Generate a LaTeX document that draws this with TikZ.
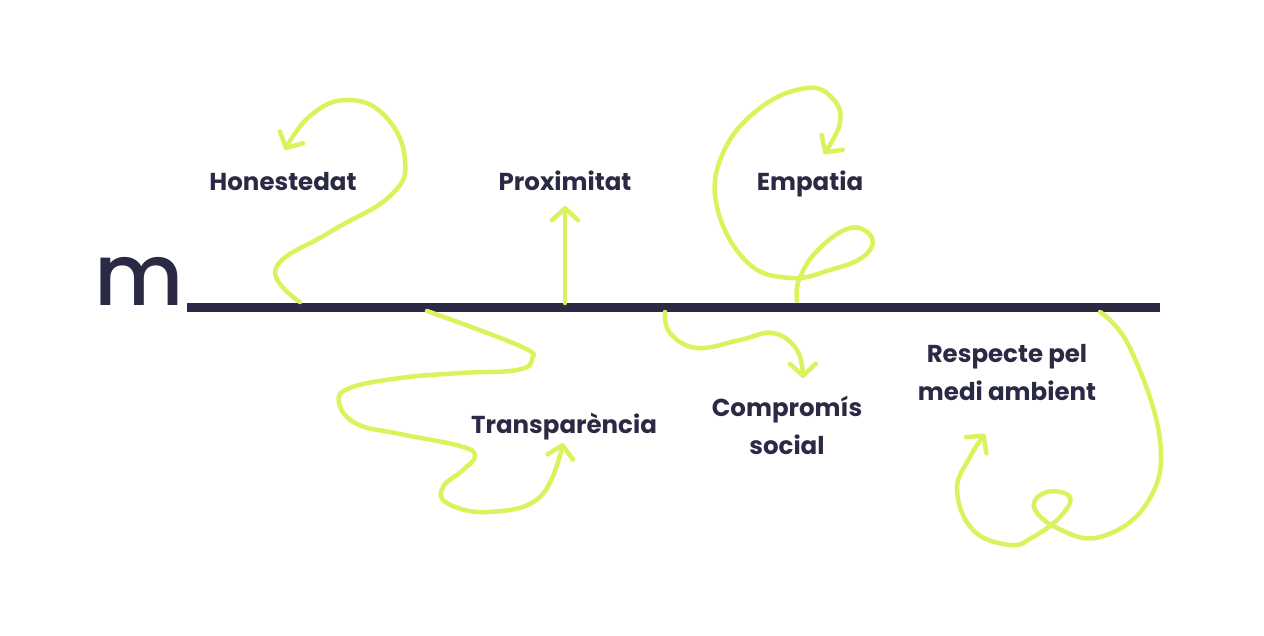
\documentclass[tikz,border=0pt]{standalone}
\usepackage{fontspec}
\setmainfont{Poppins}
\newfontfamily\logofont{Poppins Medium}
\usepackage{tikz}
\usetikzlibrary{arrows.meta}

\definecolor{navy}{HTML}{2B2A45}
\definecolor{lime}{HTML}{DCF25C}

\begin{document}
\begin{tikzpicture}[
  x=1pt, y=-1pt,
  label/.style={text=navy, font=\fontsize{24.5}{38}\selectfont\bfseries, align=center, inner sep=0pt},
  curve/.style={draw=lime, line width=4.5pt, line cap=round, line join=round},
  tip/.style={-{Straight Barb[length=12pt, width=26pt, round]}}
]
\useasboundingbox (0,0) rectangle (1264,635);

% base line and logo letter
\coordinate (lineL) at (187,307.5);
\coordinate (lineR) at (1160,307.5);
\draw[navy, line width=9pt] (lineL) -- (lineR);
\node[text=navy, font=\fontsize{86}{86}\logofont, anchor=base, inner sep=0pt] (logo) at (139,305) {m};

% values
\node[label, anchor=base] (hon) at (283,190) {Honestedat};
\node[label, anchor=base] (prox) at (565,190) {Proximitat};
\node[label, anchor=base] (emp) at (810,190) {Empatia};
\node[label, anchor=base] (trans) at (564,433) {Transparència};
\node[label] (comp) at (787,425) {Compromís\\social};
\node[label] (resp) at (1007,373) {Respecte pel\\medi ambient};

% start and end points of the curves
\coordinate (honS) at (300,302);
\coordinate (honE) at (285,150);
\coordinate (proxS) at (565,303);
\coordinate (proxE) at (565,206);
\coordinate (transS) at (427,311);
\coordinate (transE) at (563,443);
\coordinate (empS) at (797,301);
\coordinate (empE) at (824,154);
\coordinate (compS) at (665,312);
\coordinate (compE) at (803,378);
\coordinate (respS) at (1100,312);
\coordinate (respE) at (985,434);

% curved arrows
\draw[curve, tip] plot[smooth, tension=0.75] coordinates {(honS) (276,268) (330,232) (390,196) (405,160) (385,116) (347,100) (310,116) (honE)};
\draw[curve, tip] (proxS) -- (proxE);
\draw[curve, tip] plot[smooth, tension=0.7] coordinates {(transS) (520,346) (532,359) (517,370) (460,373) (400,378) (350,388) (339,403) (357,424) (400,434) (460,446) (475,456) (463,470) (443,487) (447,503) (487,512) (540,497) (transE)};
\draw[curve, tip] plot[smooth, tension=0.7] coordinates {(empS) (799,280) (817,251) (850,228) (872,238) (863,257) (830,270) (790,278) (747,262) (717,207) (723,153) (760,108) (807,88) (833,99) (840,123) (empE)};
\draw[curve, tip] plot[smooth, tension=0.7] coordinates {(compS) (670,333) (697,348) (740,340) (773,333) (797,350) (compE)};
\draw[curve, tip] plot[smooth, tension=0.7] coordinates {(respS) (1130,348) (1160,440) (1147,503) (1100,537) (1057,528) (1034,507) (1047,492) (1070,497) (1060,517) (1033,537) (1010,545) (973,530) (957,490) (970,457) (respE)};
\end{tikzpicture}
\end{document}
